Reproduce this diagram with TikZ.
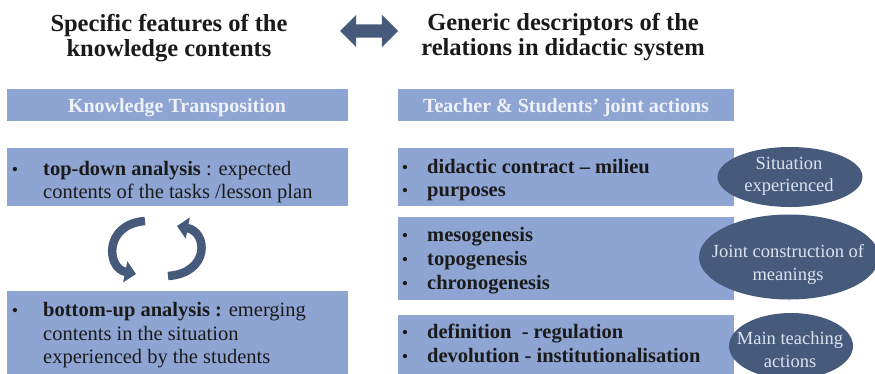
\documentclass[tikz,border=0pt]{standalone}
\usepackage{fontspec}
\setmainfont{Liberation Serif}
\usetikzlibrary{arrows.meta,shapes.geometric,shapes.arrows}
\definecolor{boxblue}{HTML}{8EA5D3}
\definecolor{slateblue}{HTML}{465A7C}
\definecolor{paletext}{HTML}{EEF1F8}
\definecolor{ovaltext}{HTML}{DDE3EE}
\definecolor{ink}{HTML}{1A1A1A}
\begin{document}
\begin{tikzpicture}[x=1pt,y=-1pt,
  panel/.style={fill=boxblue,draw=none,inner sep=0,anchor=north west},
  oval/.style={ellipse,fill=slateblue,draw=none,inner sep=0},
  headline/.style={anchor=base,inner sep=0,text=ink,font=\fontsize{24.5}{25}\selectfont\bfseries},
  bartext/.style={anchor=base,inner sep=0,text=paletext,font=\fontsize{20}{22}\selectfont\bfseries},
  bodytext/.style={anchor=base west,inner sep=0,text=ink,font=\fontsize{20.5}{23}\selectfont},
  boldtext/.style={anchor=base west,inner sep=0,text=ink,font=\fontsize{20.5}{23}\selectfont\bfseries},
  dot/.style={anchor=base,inner sep=0,text=ink,font=\fontsize{18}{20}\selectfont},
  ovallabel/.style={anchor=base,inner sep=0,text=ovaltext,font=\fontsize{18.5}{21}\selectfont},
  cyclearrow/.style={draw=slateblue,line width=8.5pt,-{Triangle[width=21pt,length=11pt]}}
]
\useasboundingbox (0,0) rectangle (875,373);
\clip (0,0) rectangle (875,373);

% headings
\node[headline] (lt1) at (169,31) {Specific features of the};
\node[headline] (lt2) at (169,56) {knowledge contents};
\node[headline] (rt1) at (563,30) {Generic descriptors of the};
\node[headline] (rt2) at (563,55) {relations in didactic system};

% two-way arrow between the headings
\node[double arrow,fill=slateblue,draw=none,inner sep=6.5pt,
      minimum height=58pt,minimum width=32pt,
      double arrow head extend=9.5pt] (link) at (369,31) {};

% header bars
\node[panel,minimum width=341pt,minimum height=32pt] (ktbar) at (7,89) {};
\node[bartext] at (177,112) {Knowledge Transposition};
\node[panel,minimum width=336pt,minimum height=32pt] (tsbar) at (398,89) {};
\node[bartext] at (566,112) {Teacher \& Students’ joint actions};

% left column boxes
\node[panel,minimum width=341pt,minimum height=58pt] (topdown) at (7,148) {};
\node[dot] at (15,175) {•};
\node[bodytext] at (43,175) {\textbf{top-down analysis} : expected};
\node[bodytext] at (43,198) {contents of the tasks /lesson plan};

\node[panel,minimum width=341pt,minimum height=85pt] (bottomup) at (7,291) {};
\node[dot] at (15,316) {•};
\node[bodytext] at (43,316) {\textbf{bottom-up analysis :} emerging};
\node[bodytext] at (43,340) {contents in the situation};
\node[bodytext] at (43,363) {experienced by the students};

% cycle arrows between the two analyses
\coordinate (la) at (145,221);
\coordinate (lb) at (136,274);
\coordinate (ra) at (168,276);
\coordinate (rb) at (177,226);
\draw[cyclearrow] (la) .. controls (104,224) and (106,268) .. (lb);
\draw[cyclearrow] (ra) .. controls (210,273) and (208,232) .. (rb);

% right column boxes
\node[panel,minimum width=336pt,minimum height=58pt] (contract) at (398,148) {};
\node[dot] at (405,173) {•};
\node[boldtext] at (427,173) {didactic contract – milieu};
\node[dot] at (405,196) {•};
\node[boldtext] at (427,196) {purposes};

\node[panel,minimum width=336pt,minimum height=83pt] (genesis) at (398,217) {};
\node[dot] at (405,241) {•};
\node[boldtext] at (427,241) {mesogenesis};
\node[dot] at (405,265) {•};
\node[boldtext] at (427,265) {topogenesis};
\node[dot] at (405,289) {•};
\node[boldtext] at (427,289) {chronogenesis};

\node[panel,minimum width=336pt,minimum height=60pt] (actions) at (398,315) {};
\node[dot] at (405,338) {•};
\node[boldtext] at (427,338) {definition \ - regulation};
\node[dot] at (405,362) {•};
\node[boldtext] at (427,362) {devolution - institutionalisation};

% ovals on the right
\node[oval,minimum width=145pt,minimum height=60pt] (situation) at (790,177) {};
\node[ovallabel] at (789,169) {Situation};
\node[ovallabel] at (789,191) {experienced};

\node[oval,minimum width=180pt,minimum height=85pt] (meanings) at (789,257) {};
\node[ovallabel] at (788,257) {Joint construction of};
\node[ovallabel] at (788,280) {meanings};

\node[oval,minimum width=124pt,minimum height=66pt] (teaching) at (791,346) {};
\node[ovallabel] at (790,344) {Main teaching};
\node[ovallabel] at (790,367) {actions};
\end{tikzpicture}
\end{document}
